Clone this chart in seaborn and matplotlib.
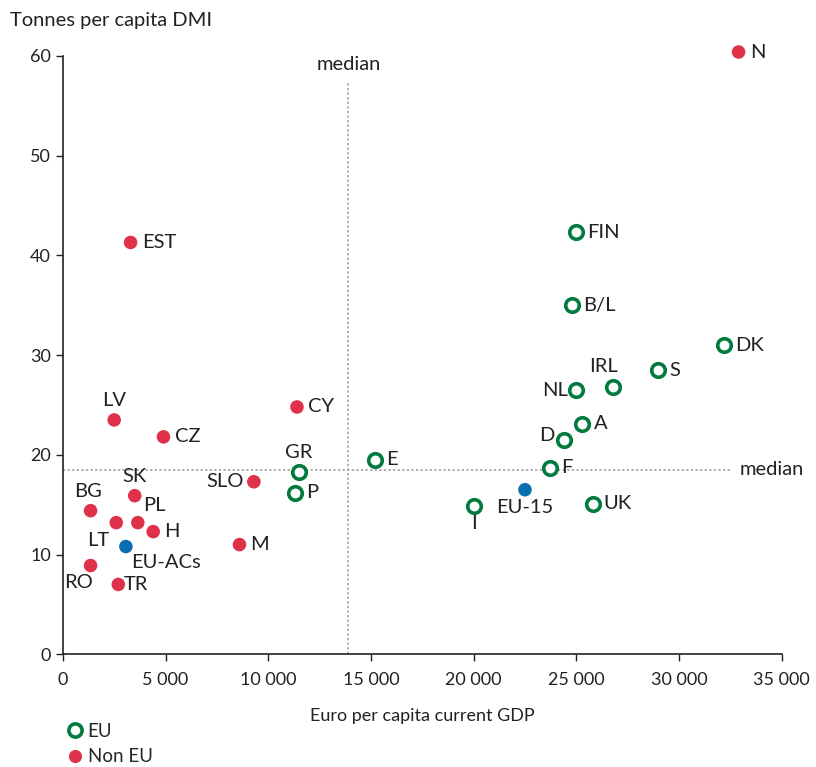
import numpy as np
import pandas as pd
import matplotlib.pyplot as plt
import seaborn as sns
from matplotlib.lines import Line2D
from matplotlib.ticker import FuncFormatter

# Dados
eu_names = ["FIN", "B/L", "DK", "S", "IRL", "NL", "A", "D", "F", "UK", "I", "E", "GR", "P"]
eu_gdp = [25000, 24800, 32200, 29000, 26800, 25000, 25300, 24400, 23700, 25800, 20000, 15200, 11500, 11300]
eu_dmi = [42.3, 35.0, 31.0, 28.5, 26.8, 26.5, 23.1, 21.5, 18.7, 15.1, 14.9, 19.5, 18.3, 16.2]

non_names = ["N", "EST", "CY", "SLO", "M", "CZ", "LV", "SK", "BG", "PL", "LT", "H", "RO", "TR"]
non_gdp = [32900, 3300, 11400, 9300, 8600, 4900, 2500, 3500, 1350, 3650, 2600, 4400, 1350, 2700]
non_dmi = [60.4, 41.3, 24.8, 17.3, 11.0, 21.8, 23.5, 15.9, 14.4, 13.2, 13.2, 12.3, 8.9, 7.0]

agg_names = ["EU-15", "EU-ACs"]
agg_gdp = [22500, 3070]
agg_dmi = [16.5, 10.8]

median_gdp = 13900
median_dmi = 18.5

# Posição dos rótulos (offset em pontos, alinhamento)
label_pos = {
    "IRL": (-7, 9, "center", "bottom"), "NL": (-6, 0, "right", "center"),
    "D": (-7, 3, "right", "center"), "GR": (0, 8, "center", "bottom"),
    "SLO": (-7, 0, "right", "center"), "LV": (0, 8, "center", "bottom"),
    "SK": (0, 8, "center", "bottom"), "BG": (-2, 8, "center", "bottom"),
    "PL": (4, 6, "left", "bottom"), "LT": (-5, -7, "right", "top"),
    "EU-ACs": (4, -5, "left", "top"), "RO": (2, -6, "right", "top"),
    "EU-15": (0, -7, "center", "top"), "I": (0, -7, "center", "top"),
    "TR": (4, 0, "left", "center"),
}

green = "#007A3D"
red = "#E0314B"
blue = "#0A6EAF"

sns.set_style("white")
plt.rcParams["font.family"] = ["Lato", "DejaVu Sans"]

fig = plt.figure(figsize=(8.16, 7.67), dpi=100)
ax = fig.add_axes([0.077, 0.147, 0.881, 0.78])

eu_df = pd.DataFrame({"gdp": eu_gdp, "dmi": eu_dmi})
non_df = pd.DataFrame({"gdp": non_gdp, "dmi": non_dmi})
agg_df = pd.DataFrame({"gdp": agg_gdp, "dmi": agg_dmi})

ax.axvline(median_gdp, ymax=57.4 / 60, color="#999999", ls=(0, (1.5, 1.5)), lw=1.1)
ax.plot([0, 32600], [median_dmi, median_dmi], color="#999999", ls=(0, (1.5, 1.5)), lw=1.1)
ax.text(median_gdp, 58.3, "median", ha="center", va="bottom", fontsize=14.5, color="#222222")
ax.text(32950, median_dmi, "median", ha="left", va="center", fontsize=14.5, color="#222222")

sns.scatterplot(data=non_df, x="gdp", y="dmi", ax=ax, color=red, s=95, edgecolor="none",
                zorder=3, clip_on=False)
sns.scatterplot(data=agg_df, x="gdp", y="dmi", ax=ax, color=blue, s=95, edgecolor="none", zorder=3)
sns.scatterplot(data=eu_df, x="gdp", y="dmi", ax=ax, facecolor="white", edgecolor=green,
                s=95, linewidth=2.6, zorder=3)

for names, xs, ys in [(eu_names, eu_gdp, eu_dmi), (non_names, non_gdp, non_dmi), (agg_names, agg_gdp, agg_dmi)]:
    for n, x, y in zip(names, xs, ys):
        dx, dy, ha, va = label_pos.get(n, (8, 0, "left", "center"))
        ax.annotate(n, (x, y), xytext=(dx, dy), textcoords="offset points",
                    ha=ha, va=va, fontsize=14.5, color="#222222", annotation_clip=False)

ax.set_xlim(0, 35000)
ax.set_ylim(0, 60)
ax.set_xticks(np.arange(0, 35001, 5000))
ax.set_yticks(np.arange(0, 61, 10))
ax.xaxis.set_major_formatter(FuncFormatter(lambda v, p: f"{int(v):,}".replace(",", " ")))
ax.tick_params(axis="both", direction="out", length=5, width=1, color="#222222",
               labelsize=13, labelcolor="#222222", bottom=True, left=True)
ax.tick_params(axis="x", pad=8)
for sp in ["top", "right"]:
    ax.spines[sp].set_visible(False)
for sp in ["left", "bottom"]:
    ax.spines[sp].set_color("#222222")
    ax.spines[sp].set_linewidth(1.2)
ax.set_xlabel("Euro per capita current GDP", fontsize=13, color="#222222", labelpad=14)
ax.set_ylabel("")
fig.text(0.012, 0.973, "Tonnes per capita DMI", fontsize=14.5, color="#222222", va="center")

handles = [
    Line2D([], [], marker="o", ls="", markerfacecolor="white", markeredgecolor=green,
           markeredgewidth=2.6, markersize=9.5),
    Line2D([], [], marker="o", ls="", markerfacecolor=red, markeredgecolor="none", markersize=9.5),
]
fig.legend(handles, ["EU", "Non EU"], loc="lower left", bbox_to_anchor=(0.058, -0.02),
           frameon=False, fontsize=13.5, handletextpad=0.05, labelspacing=0.45, handlelength=1.2)

plt.savefig("out.png", dpi=100)
